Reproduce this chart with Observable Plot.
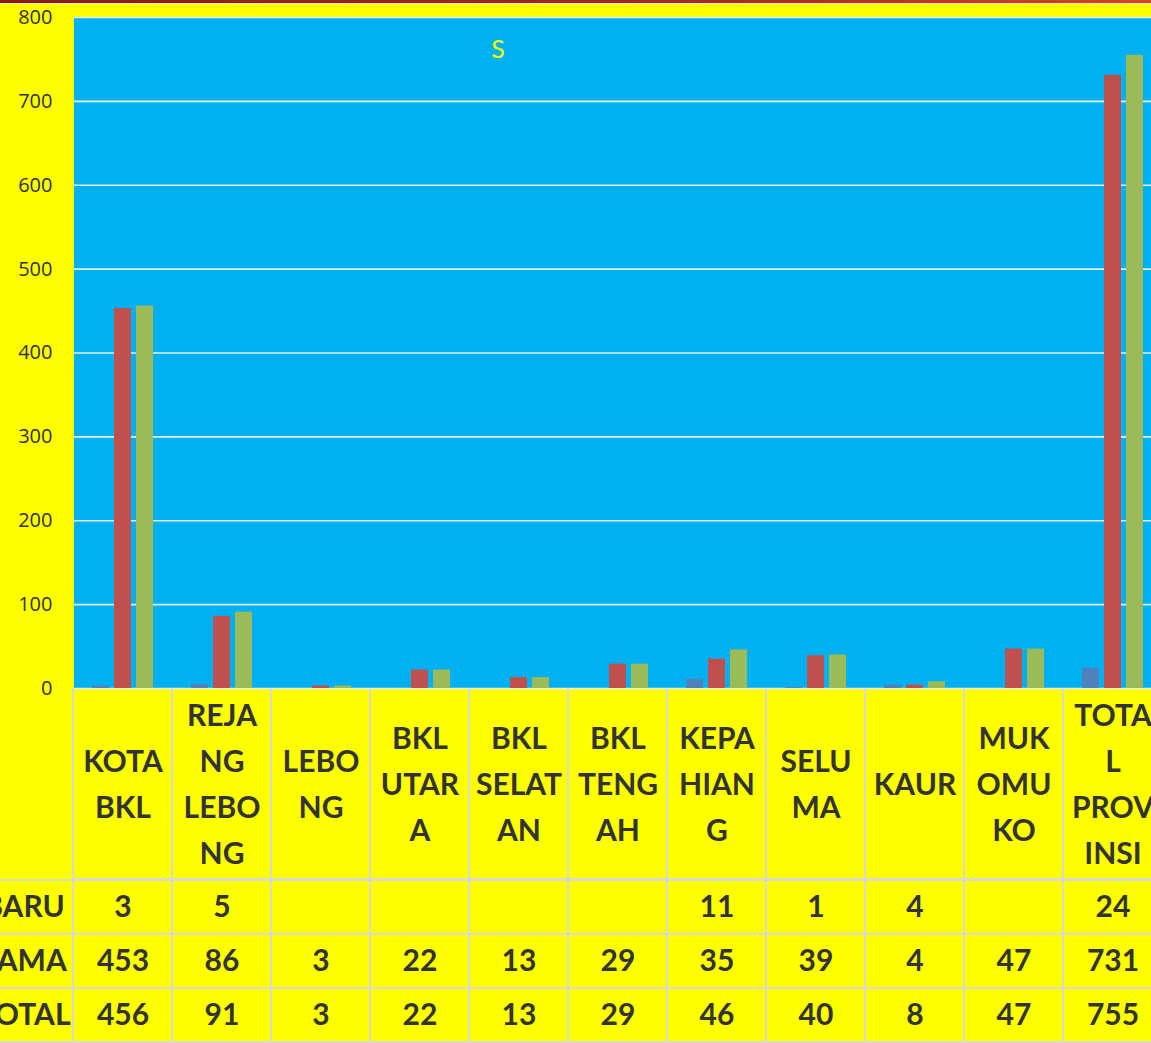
<!DOCTYPE html>
<html><head><meta charset="utf-8">
<script src="https://cdn.jsdelivr.net/npm/d3@7"></script>
<script src="https://cdn.jsdelivr.net/npm/@observablehq/plot@0.6"></script>
<style>
html,body{margin:0;padding:0;background:#FFFF00;overflow:hidden;width:1151px;height:1043px;}
#topbar{height:3px;background:linear-gradient(90deg,#8E1B12,#A52A1A 60%,#D9431E);}
#topline{height:1px;background:#E6E6E6;}
#wrap{position:relative;width:1151px;height:1039px;overflow:hidden;}
#wrap svg{display:block;max-width:none !important;}
#title{position:absolute;left:498px;top:29px;transform:translateX(-50%);font:25px Lato,"Open Sans",sans-serif;color:#FFFF00;z-index:2;}
</style></head><body>
<div id="topbar"></div><div id="topline"></div>
<div id="wrap"><div id="title"></div></div>
<script>
const categories = ["KOTA BKL","REJANG LEBONG","LEBONG","BKL UTARA","BKL SELATAN","BKL TENGAH","KEPAHIANG","SELUMA","KAUR","MUKOMUKO","TOTAL PROVINSI"];
const headerLabels = ["KOTA\nBKL","REJA\nNG\nLEBO\nNG","LEBO\nNG","BKL\nUTAR\nA","BKL\nSELAT\nAN","BKL\nTENG\nAH","KEPA\nHIAN\nG","SELU\nMA","KAUR","MUK\nOMU\nKO","TOTA\nL\nPROV\nINSI"];
const seriesNames = ["BARU","LAMA","TOTAL"];
const baru  = [3, 5, null, null, null, null, 11, 1, 4, null, 24];
const lama  = [453, 86, 3, 22, 13, 29, 35, 39, 4, 47, 731];
const total = [456, 91, 3, 22, 13, 29, 46, 40, 8, 47, 755];
const yTicks = [0, 100, 200, 300, 400, 500, 600, 700, 800];
const seriesColors = ["#4F81BD", "#C0504D", "#9BBB59"];
const titleText = "S";

const seriesValues = [baru, lama, total];
const rows = [];
seriesNames.forEach((s, i) => categories.forEach((c, j) => rows.push({category: c, series: s, value: seriesValues[i][j]})));
const headers = categories.map((c, j) => ({category: c, label: headerLabels[j]}));

const LABEL = "\u0000label";
const W = 1162;
const textColor = "#333333";
const gridColor = "#D9D9D9";
const font = "Lato, 'Open Sans', sans-serif";

const wrap = document.getElementById("wrap");
document.getElementById("title").textContent = titleText;

// Bar chart
const chart = Plot.plot({
  width: W, height: 684,
  marginTop: 13, marginBottom: 0, marginLeft: 73, marginRight: 0,
  style: {fontFamily: font, background: "transparent"},
  fx: {domain: categories, padding: 0, axis: null, label: null},
  x: {domain: seriesNames, paddingInner: 0.23, paddingOuter: 0.865, axis: null, label: null},
  y: {domain: [0, 800], axis: null, label: null},
  color: {domain: seriesNames, range: seriesColors},
  marks: [
    Plot.frame({fill: "#00B0F0", stroke: null, insetRight: -1, shapeRendering: "crispEdges"}),
    Plot.gridY(yTicks, {stroke: "#E8EEF0", strokeOpacity: 1, strokeWidth: 1.6}),
    Plot.barY(rows, {fx: "category", x: "series", y: "value", fill: "series"}),
    Plot.axisY(yTicks, {tickSize: 0, tickPadding: 21, fontSize: 20, fill: textColor, label: null, fontFamily: "'Open Sans', sans-serif"})
  ]
});
chart.style.overflow = "visible";
chart.style.position = "relative";
chart.style.zIndex = "1";
wrap.appendChild(chart);

// Header row of data table
const header = Plot.plot({
  width: W, height: 191,
  margin: 0,
  style: {fontFamily: font, background: "transparent"},
  x: {domain: [LABEL, ...categories], range: [-26, W], padding: 0, axis: null},
  marks: [
    Plot.cell(headers, {x: "category", fill: "#FFFF00", stroke: gridColor, strokeWidth: 2}),
    Plot.text(headers, {x: "category", text: "label", fontSize: 30, fontWeight: "bold", fill: textColor, lineHeight: 1.53, dy: -4})
  ]
});
wrap.appendChild(header);

// Value rows of data table
const labelCells = seriesNames.map(s => ({category: LABEL, series: s, text: s}));
const valueCells = rows.map(d => ({category: d.category, series: d.series, text: d.value == null ? "" : String(d.value)}));
const table = Plot.plot({
  width: W, height: 164,
  margin: 0,
  style: {fontFamily: font, background: "transparent"},
  x: {domain: [LABEL, ...categories], range: [-26, W], padding: 0, axis: null},
  y: {domain: seriesNames, range: [0, 163], padding: 0, axis: null},
  marks: [
    Plot.cell([...labelCells, ...valueCells], {x: "category", y: "series", fill: "#FFFF00", stroke: gridColor, strokeWidth: 2}),
    Plot.text([...labelCells, ...valueCells], {x: "category", y: "series", text: "text", fontSize: 30, fontWeight: "bold", fill: textColor})
  ]
});
wrap.appendChild(table);
</script>
</body></html>
